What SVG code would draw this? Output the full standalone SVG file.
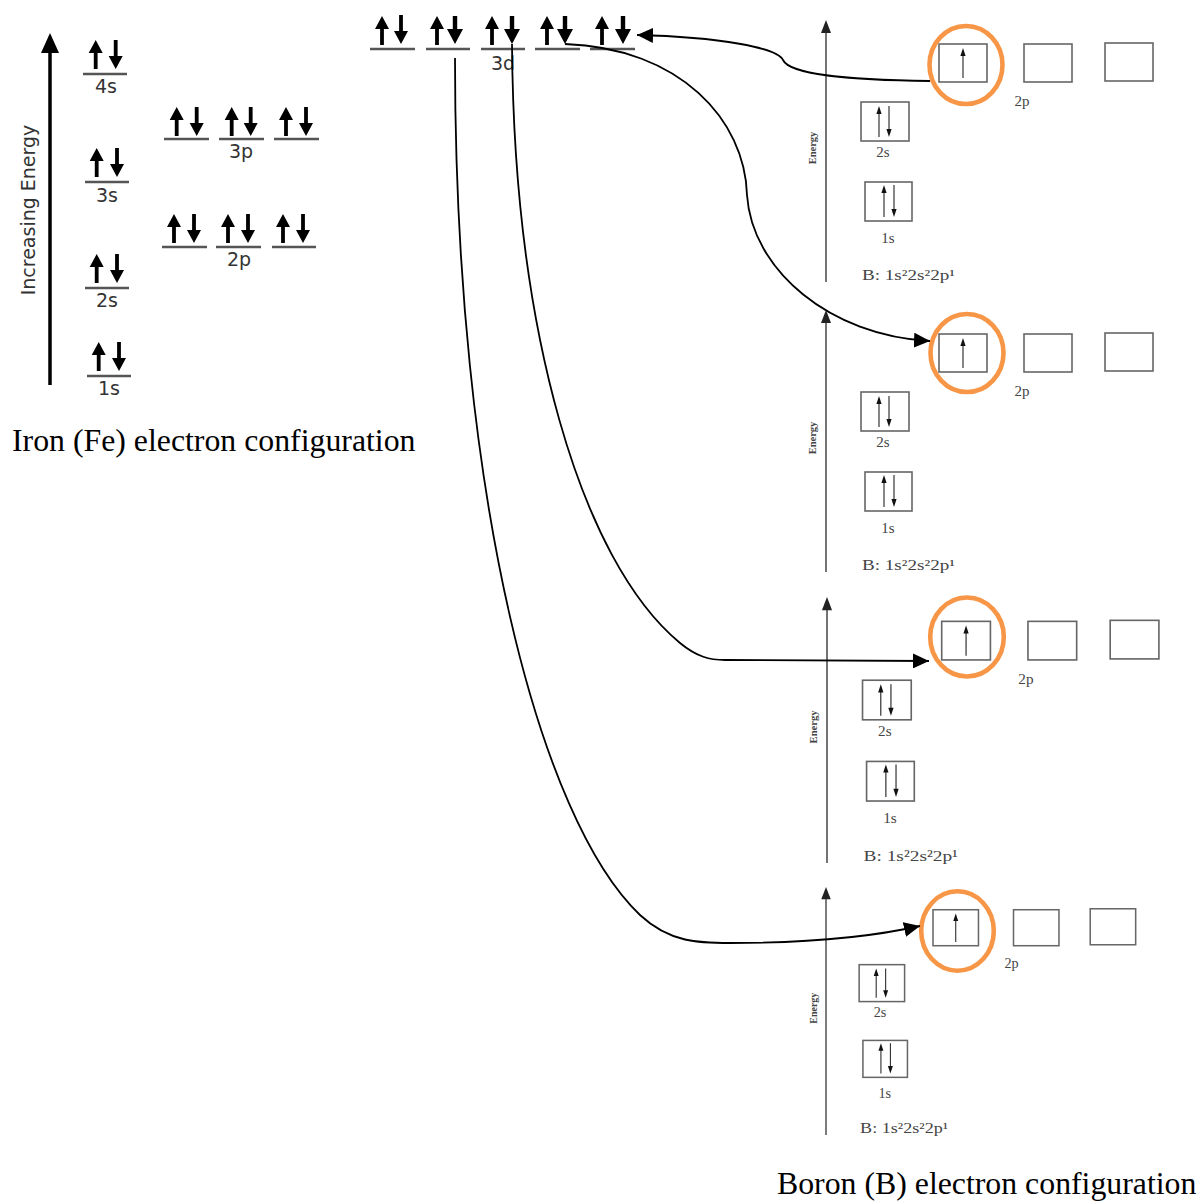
<svg xmlns="http://www.w3.org/2000/svg" width="1201" height="1201" viewBox="0 0 1201 1201">
<style>
.lvl{stroke:#555;stroke-width:2.5;fill:none}
.fel{font-family:"DejaVu Sans",sans-serif;font-size:19px;fill:#333;text-anchor:middle}
.cap{font-family:"Liberation Serif",serif;font-size:31.8px;fill:#000}
.axis{stroke:#666;stroke-width:1.8;fill:none}
.box{fill:none;stroke:#666;stroke-width:1.6}
.ba{stroke:#222;stroke-width:1.1;fill:none}
.bh{fill:#111}
.bl{font-family:"Liberation Serif",serif;font-size:15px;fill:#444;text-anchor:middle}
.bf{font-family:"Liberation Serif",serif;font-size:15px;fill:#444}
.en{font-family:"Liberation Serif",serif;font-size:10.5px;font-weight:bold;fill:#444;text-anchor:middle}
.ring{fill:none;stroke:#F79646;stroke-width:4.6}
.conn{fill:none;stroke:#000;stroke-width:1.8}
</style>
<defs>
<marker id="ah" markerUnits="userSpaceOnUse" markerWidth="16" markerHeight="15" refX="16" refY="7.5" orient="auto"><path d="M0,0 L16,7.5 L0,15 Z" fill="#000"/></marker>
<path id="fu" d="M0,0 L7,13 L1.9,13 L1.9,29 L-1.9,29 L-1.9,13 L-7,13 Z" fill="#000"/>
<path id="fd" d="M0,29 L7,16 L1.9,16 L1.9,0 L-1.9,0 L-1.9,16 L-7,16 Z" fill="#000"/>
<path id="fd2" d="M0,28 L8,13 L2.2,13 L2.2,0 L-2.2,0 L-2.2,13 L-8,13 Z" fill="#000"/>
<g id="panel">
  <line class="axis" x1="0" y1="10" x2="0" y2="262"/>
  <path d="M0,0 L5,13 L-5,13 Z" fill="#222"/>
  <text class="en" transform="translate(-10,128) rotate(-90)">Energy</text>
  <rect class="box" x="113" y="24" width="48" height="38"/>
  <rect class="box" x="198" y="24" width="48" height="38"/>
  <rect class="box" x="279" y="23" width="48" height="38"/>
  <line class="ba" x1="137" y1="34" x2="137" y2="58"/><path class="bh" d="M137,28 l2.6,8 h-5.2 z"/>
  <text class="bl" x="196" y="86">2p</text>
  <rect class="box" x="35" y="82" width="48" height="39"/>
  <line class="ba" x1="53" y1="92" x2="53" y2="117"/><path class="bh" d="M53,86 l2.6,8 h-5.2 z"/>
  <line class="ba" x1="63" y1="86" x2="63" y2="111"/><path class="bh" d="M63,117 l2.6,-8 h-5.2 z"/>
  <text class="bl" x="57" y="137">2s</text>
  <rect class="box" x="39" y="162" width="47" height="39"/>
  <line class="ba" x1="58" y1="171" x2="58" y2="197"/><path class="bh" d="M58,165 l2.6,8 h-5.2 z"/>
  <line class="ba" x1="68" y1="165" x2="68" y2="191"/><path class="bh" d="M68,197 l2.6,-8 h-5.2 z"/>
  <text class="bl" x="62" y="223">1s</text>
  <text class="bf" x="36" y="260" textLength="93" lengthAdjust="spacingAndGlyphs">B: 1s²2s²2p¹</text>
</g>
</defs>

<g id="fe-axis">
  <line x1="50" y1="385" x2="50" y2="50" stroke="#000" stroke-width="3.5"/>
  <path d="M50,33 L59,53 L41,53 Z" fill="#000"/>
  <text class="fel" transform="translate(35,210) rotate(-90)">Increasing Energy</text>
</g>

<g id="fe-4s">
  <line class="lvl" x1="83" y1="74" x2="127" y2="74"/>
  <use href="#fu" x="95.7" y="40"/><use href="#fd" x="115.7" y="40"/>
  <text class="fel" x="106" y="93">4s</text>
</g>
<g id="fe-3s">
  <line class="lvl" x1="85" y1="182" x2="129" y2="182"/>
  <use href="#fu" x="96.7" y="148"/><use href="#fd" x="117" y="148"/>
  <text class="fel" x="107" y="202">3s</text>
</g>
<g id="fe-2s">
  <line class="lvl" x1="85" y1="288" x2="129" y2="288"/>
  <use href="#fu" x="96.7" y="254"/><use href="#fd" x="117" y="254"/>
  <text class="fel" x="107" y="307">2s</text>
</g>
<g id="fe-1s">
  <line class="lvl" x1="87" y1="376" x2="131" y2="376"/>
  <use href="#fu" x="98.7" y="342"/><use href="#fd" x="119" y="342"/>
  <text class="fel" x="109" y="395">1s</text>
</g>
<g id="fe-3p">
  <line class="lvl" x1="164" y1="139" x2="209" y2="139"/>
  <line class="lvl" x1="219" y1="139" x2="264" y2="139"/>
  <line class="lvl" x1="274" y1="139" x2="319" y2="139"/>
  <use href="#fu" x="176.7" y="107"/><use href="#fd" x="196.7" y="107"/>
  <use href="#fu" x="231.7" y="107"/><use href="#fd" x="250.7" y="107"/>
  <use href="#fu" x="286" y="107"/><use href="#fd" x="306" y="107"/>
  <text class="fel" x="241" y="158">3p</text>
</g>
<g id="fe-2p">
  <line class="lvl" x1="162" y1="247" x2="207" y2="247"/>
  <line class="lvl" x1="216" y1="247" x2="261" y2="247"/>
  <line class="lvl" x1="272" y1="247" x2="316" y2="247"/>
  <use href="#fu" x="174" y="214"/><use href="#fd" x="194" y="214"/>
  <use href="#fu" x="228" y="214"/><use href="#fd" x="248" y="214"/>
  <use href="#fu" x="283" y="214"/><use href="#fd" x="303" y="214"/>
  <text class="fel" x="239" y="266">2p</text>
</g>
<g id="fe-3d">
  <line class="lvl" x1="370" y1="49" x2="415" y2="49"/>
  <line class="lvl" x1="426" y1="49" x2="470" y2="49"/>
  <line class="lvl" x1="481" y1="49" x2="525" y2="49"/>
  <line class="lvl" x1="535" y1="49" x2="580" y2="49"/>
  <line class="lvl" x1="590" y1="49" x2="635" y2="49"/>
  <use href="#fu" x="382" y="16"/><use href="#fd" x="401" y="15"/>
  <use href="#fu" x="437" y="16"/><use href="#fd2" x="455" y="16"/>
  <use href="#fu" x="492" y="16"/><use href="#fd2" x="512" y="16"/>
  <use href="#fu" x="547" y="16"/><use href="#fd2" x="565" y="16"/>
  <use href="#fu" x="602" y="16"/><use href="#fd2" x="623" y="16"/>
  <text class="fel" x="503" y="70">3d</text>
</g>

<g id="boron-1">
  <use href="#panel" transform="translate(826,20)"/>
  <ellipse class="ring" cx="966" cy="65" rx="36.5" ry="39"/>
</g>
<g id="boron-2">
  <use href="#panel" transform="translate(826,310)"/>
  <ellipse class="ring" cx="967" cy="353" rx="36.5" ry="39"/>
</g>
<g id="boron-3">
  <use href="#panel" transform="translate(827,597) scale(1.015)"/>
  <ellipse class="ring" cx="967" cy="637" rx="36.8" ry="39.5"/>
</g>
<g id="boron-4">
  <use href="#panel" transform="translate(826,887) scale(0.947)"/>
  <ellipse class="ring" cx="957.5" cy="931" rx="36.3" ry="39.7"/>
</g>

<g id="connectors">
  <path class="conn" marker-end="url(#ah)" d="M930,81 C850,80 790,75 783,60 C778,48 720,37 637,35"/>
  <path class="conn" marker-end="url(#ah)" d="M565,44 C680,48 745,120 747,195 C752,270 830,336 930,341"/>
  <path class="conn" marker-end="url(#ah)" d="M512,44 C514,330 580,560 680,643 C697,657 710,660 725,660 L929,661"/>
  <path class="conn" marker-end="url(#ah)" d="M455,58 C455,500 540,820 640,915 C670,943 700,943 730,943 C820,943 880,935 920,926"/>
</g>

<g id="captions">
  <text class="cap" x="12" y="451">Iron (Fe) electron configuration</text>
  <text class="cap" x="777" y="1194">Boron (B) electron configuration</text>
</g>
</svg>
